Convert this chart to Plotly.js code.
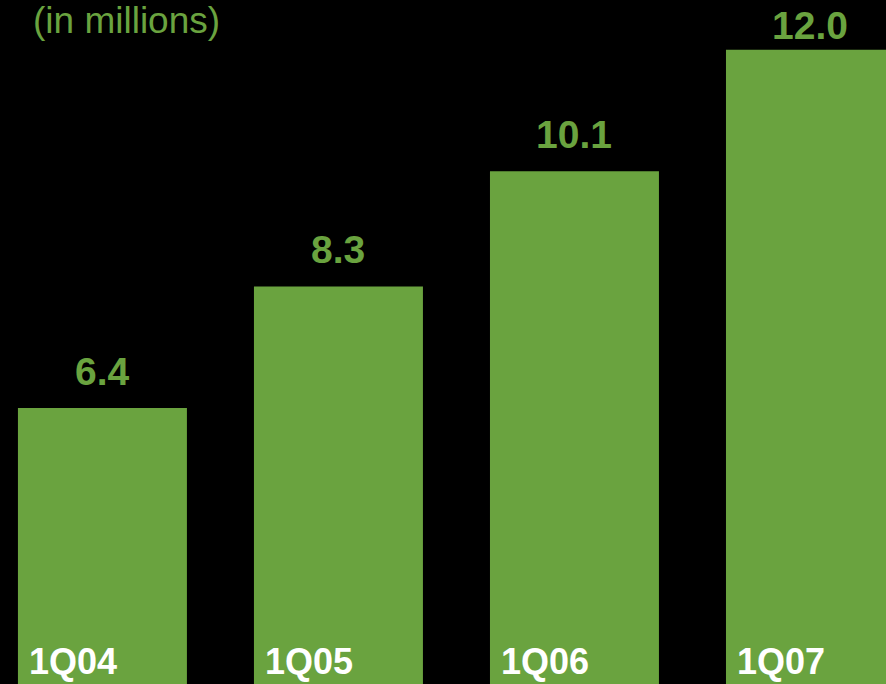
<!DOCTYPE html>
<html>
<head>
<meta charset="utf-8">
<script src="https://cdn.plot.ly/plotly-3.0.1.min.js"></script>
<style>html,body{margin:0;padding:0;background:#000;}#chart{width:886px;height:684px;}</style>
</head>
<body>
<div id="chart"></div>
<script>
const categories = ["1Q04", "1Q05", "1Q06", "1Q07"];
const values = [6.4, 8.3, 10.1, 12.0];
const valueLabels = ["6.4", "8.3", "10.1", "12.0"];
const unitLabel = "(in millions)";

const green = "#6AA33F";
const font = "Liberation Sans, Arial, sans-serif";
const barWidth = 0.716;
const yMax = 12.78;

const annotations = [];
values.forEach((v, i) => {
  // clamp label near the top edge
  const shift = v > 11.5 ? 1 : 13;
  annotations.push({
    x: i, y: v, xref: "x", yref: "y",
    text: "<b>" + valueLabels[i] + "</b>",
    showarrow: false, xanchor: "center", yanchor: "bottom", yshift: shift,
    font: {family: font, size: 39, color: green}
  });
  annotations.push({
    x: i - barWidth / 2, y: 0, xref: "x", yref: "paper",
    text: "<b>" + categories[i] + "</b>",
    showarrow: false, xanchor: "left", yanchor: "bottom", xshift: 9, yshift: 0,
    font: {family: font, size: 36, color: "#FFFFFF"}
  });
});
annotations.push({
  x: 0, y: 1, xref: "paper", yref: "paper",
  text: unitLabel, showarrow: false, xanchor: "left", yanchor: "top", xshift: 31, yshift: 2,
  font: {family: font, size: 37, color: green}
});

Plotly.newPlot("chart", [{
  type: "bar",
  x: categories.map((c, i) => i),
  y: values,
  width: barWidth,
  marker: {color: green, line: {width: 0}},
  hoverinfo: "none"
}], {
  width: 886, height: 684,
  margin: {l: 0, r: 0, t: 0, b: 0, pad: 0},
  paper_bgcolor: "#000000", plot_bgcolor: "#000000",
  showlegend: false,
  xaxis: {range: [-0.434, 3.32], visible: false, fixedrange: true},
  yaxis: {range: [2.082, yMax], visible: false, fixedrange: true},
  annotations: annotations
}, {displayModeBar: false, staticPlot: true});
</script>
</body>
</html>
